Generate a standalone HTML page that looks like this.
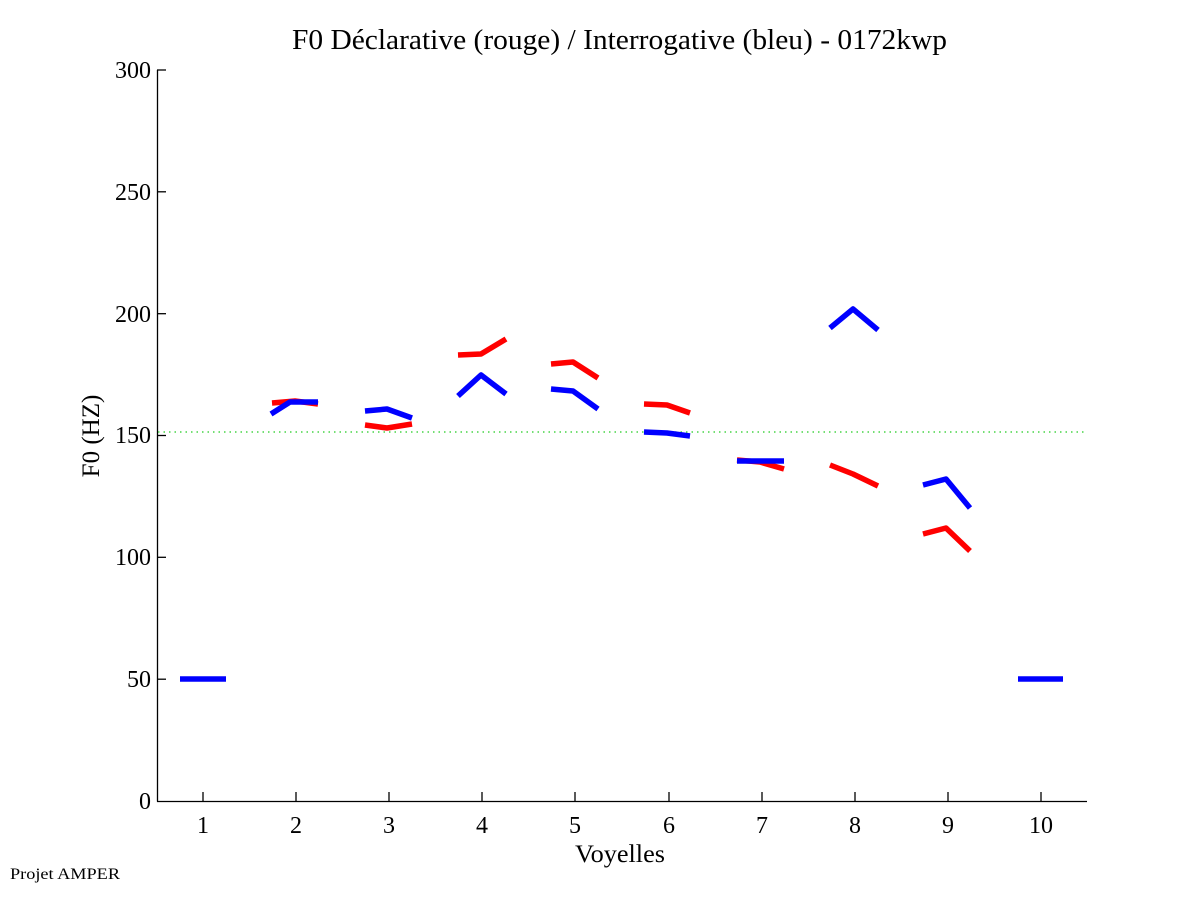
<!DOCTYPE html>
<html><head><meta charset="utf-8"><style>
html,body{margin:0;padding:0;background:#fff;}
svg{display:block;}
text{font-family:"Liberation Serif",serif;fill:#000;}
</style></head><body>
<svg width="1201" height="901" viewBox="0 0 1201 901" xmlns="http://www.w3.org/2000/svg">
<rect width="1201" height="901" fill="#fff"/>
<text x="292" y="49" font-size="28" textLength="655" lengthAdjust="spacingAndGlyphs">F0 Déclarative (rouge) / Interrogative (bleu) - 0172kwp</text>
<g stroke="#000" stroke-width="1.3" fill="none">
<line x1="157.5" y1="70" x2="157.5" y2="801.5"/>
<line x1="157" y1="801.5" x2="1087" y2="801.5"/>
<line x1="157" y1="70" x2="166" y2="70"/>
<line x1="157" y1="191.8" x2="166" y2="191.8"/>
<line x1="157" y1="313.7" x2="166" y2="313.7"/>
<line x1="157" y1="435.5" x2="166" y2="435.5"/>
<line x1="157" y1="557.3" x2="166" y2="557.3"/>
<line x1="157" y1="679.2" x2="166" y2="679.2"/>
<line x1="203" y1="792" x2="203" y2="801"/>
<line x1="296" y1="792" x2="296" y2="801"/>
<line x1="389" y1="792" x2="389" y2="801"/>
<line x1="482" y1="792" x2="482" y2="801"/>
<line x1="575" y1="792" x2="575" y2="801"/>
<line x1="669" y1="792" x2="669" y2="801"/>
<line x1="762" y1="792" x2="762" y2="801"/>
<line x1="855" y1="792" x2="855" y2="801"/>
<line x1="948" y1="792" x2="948" y2="801"/>
<line x1="1041" y1="792" x2="1041" y2="801"/>
</g>
<g font-size="24" text-anchor="end">
<text x="151" y="78">300</text>
<text x="151" y="200">250</text>
<text x="151" y="322">200</text>
<text x="151" y="443">150</text>
<text x="151" y="565">100</text>
<text x="151" y="687">50</text>
<text x="151" y="809">0</text>
</g>
<g font-size="24" text-anchor="middle">
<text x="203" y="833">1</text><text x="296" y="833">2</text><text x="389" y="833">3</text>
<text x="482" y="833">4</text><text x="575" y="833">5</text><text x="669" y="833">6</text>
<text x="762" y="833">7</text><text x="855" y="833">8</text><text x="948" y="833">9</text>
<text x="1041" y="833">10</text>
</g>
<text x="575" y="862" font-size="25" textLength="90" lengthAdjust="spacingAndGlyphs">Voyelles</text>
<text x="0" y="0" font-size="25" text-anchor="middle" transform="translate(99,436) rotate(-90)">F0 (HZ)</text>
<text x="10" y="879" font-size="16" textLength="110" lengthAdjust="spacingAndGlyphs">Projet AMPER</text>
<line x1="158" y1="432" x2="1087" y2="432" stroke="#2c2" stroke-width="1.2" stroke-dasharray="1.5,4"/>
<g stroke="#f00" stroke-width="5.5" fill="none" stroke-linejoin="round">
<polyline points="272,403 295,401 318,404"/>
<polyline points="365,425 387,428 412,424"/>
<polyline points="458,355 481,354 506,339"/>
<polyline points="551,364 573,362 598,378"/>
<polyline points="644,404 667,405 690,413"/>
<polyline points="737,460 760,462 784,469"/>
<polyline points="830,465 853,474 878,486"/>
<polyline points="923,534 946,528 970,551"/>
</g>
<g stroke="#00f" stroke-width="5.5" fill="none" stroke-linejoin="round">
<polyline points="180,679 226,679"/>
<polyline points="271,414 290,402 318,402"/>
<polyline points="365,411 387,409 412,418"/>
<polyline points="458,396 481,375 506,394"/>
<polyline points="551,389 573,391 598,409"/>
<polyline points="644,432 667,433 690,436"/>
<polyline points="737,461 760,461 784,461"/>
<polyline points="830,328 853,309 878,330"/>
<polyline points="923,485 946,479 970,508"/>
<polyline points="1018,679 1063,679"/>
</g>
</svg>
</body></html>
